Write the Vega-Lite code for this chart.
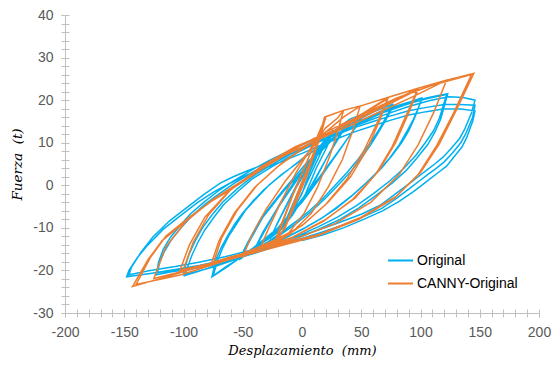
{
 "$schema": "https://vega.github.io/schema/vega-lite/v6.json",
 "width": 474, "height": 298,
 "autosize": {"type": "none"},
 "padding": {"left": 65, "top": 15, "right": 13, "bottom": 55},
 "config": {"view": {"stroke": null}, "font": "Liberation Sans"},
 "layer": [
  {
   "data": {"values": [
{"x":0,"y":0},{"x":5,"y":3},{"x":10,"y":6},{"x":15,"y":9},{"x":12,"y":6.5},{"x":5,"y":2},{"x":0,"y":-2},{"x":-8,"y":-6},{"x":-15,"y":-9},{"x":-11,"y":-6.5},{"x":-4,"y":-2},{"x":3,"y":2},{"x":10,"y":6},{"x":16,"y":9.5},
{"x":22,"y":11.5},{"x":26,"y":12.5},{"x":21,"y":9},{"x":12,"y":4},{"x":3,"y":-2},{"x":-8,"y":-7},{"x":-18,"y":-10.5},{"x":-26,"y":-12.2},{"x":-21,"y":-9},{"x":-11,"y":-3.5},{"x":0,"y":2.5},{"x":12,"y":8},{"x":26,"y":13},
{"x":19,"y":9.5},{"x":9,"y":3.5},{"x":-2,"y":-3},{"x":-14,"y":-8.5},{"x":-27,"y":-12.5},{"x":-19,"y":-8},{"x":-7,"y":-1.5},{"x":8,"y":5.5},{"x":20,"y":10.5},{"x":28,"y":13},{"x":38,"y":15},
{"x":31,"y":11.5},{"x":20,"y":6},{"x":6,"y":-1.5},{"x":-10,"y":-7.5},{"x":-25,"y":-12},{"x":-39,"y":-14.5},{"x":-31,"y":-10.5},{"x":-19,"y":-4.5},{"x":-5,"y":1.5},{"x":10,"y":7},{"x":25,"y":11.5},{"x":40,"y":15.3},
{"x":33,"y":12},{"x":21,"y":6.5},{"x":5,"y":-1.5},{"x":-15,"y":-8.5},{"x":-30,"y":-12.8},{"x":-40,"y":-15},{"x":-33,"y":-11},{"x":-21,"y":-5.5},{"x":-6,"y":0.5},{"x":12,"y":7.5},{"x":28,"y":12.5},{"x":40,"y":15.5},{"x":52,"y":16.8},
{"x":44,"y":13.2},{"x":31,"y":8},{"x":16,"y":2},{"x":0,"y":-4},{"x":-20,"y":-10},{"x":-38,"y":-14},{"x":-52,"y":-17},{"x":-45,"y":-13.5},{"x":-33,"y":-7.5},{"x":-16,"y":-1.5},{"x":4,"y":4.5},{"x":25,"y":10.5},{"x":40,"y":14.5},{"x":53,"y":17},
{"x":45,"y":13.5},{"x":32,"y":8.5},{"x":15,"y":2},{"x":-3,"y":-4.5},{"x":-22,"y":-10.5},{"x":-40,"y":-14.8},{"x":-53,"y":-17.5},{"x":-46,"y":-13.5},{"x":-34,"y":-7.5},{"x":-17,"y":-1.5},{"x":3,"y":5},{"x":24,"y":10.5},{"x":45,"y":15},{"x":60,"y":17.2},{"x":76,"y":19},
{"x":72,"y":16.5},{"x":68,"y":14.5},{"x":62,"y":11.8},{"x":55,"y":9},{"x":47,"y":6},{"x":38,"y":3},{"x":28,"y":0},{"x":18,"y":-3},{"x":7,"y":-5.8},{"x":-5,"y":-8.5},{"x":-18,"y":-11.2},{"x":-30,"y":-13.5},{"x":-41,"y":-15.3},{"x":-52,"y":-17},{"x":-65,"y":-19.5},{"x":-76,"y":-21.5},{"x":-74,"y":-19},{"x":-72,"y":-17},{"x":-68,"y":-14.5},{"x":-63,"y":-12},{"x":-57,"y":-9.2},{"x":-50,"y":-6.5},{"x":-41,"y":-3.6},{"x":-32,"y":-1},{"x":-21,"y":1.6},{"x":-10,"y":4},{"x":2,"y":6.6},{"x":15,"y":9},{"x":28,"y":11.4},{"x":40,"y":13.5},{"x":50,"y":15.1},{"x":60,"y":16.5},{"x":69,"y":17.7},{"x":77,"y":18.8},
{"x":74,"y":17},{"x":70,"y":15},{"x":64,"y":12.2},{"x":58,"y":9.5},{"x":50,"y":6.4},{"x":42,"y":3.5},{"x":31,"y":0.2},{"x":20,"y":-3},{"x":8,"y":-6.1},{"x":-5,"y":-9},{"x":-18,"y":-11.6},{"x":-30,"y":-13.8},{"x":-43,"y":-15.8},{"x":-55,"y":-17.5},{"x":-65,"y":-19.3},{"x":-75,"y":-21.3},{"x":-73,"y":-19.4},{"x":-71,"y":-17.5},{"x":-67,"y":-14.8},{"x":-62,"y":-12},{"x":-55,"y":-9},{"x":-48,"y":-6},{"x":-38,"y":-2.9},{"x":-28,"y":0},{"x":-17,"y":2.6},{"x":-5,"y":5},{"x":7,"y":7.6},{"x":20,"y":10},{"x":33,"y":12.2},{"x":45,"y":14},{"x":55,"y":15.6},{"x":65,"y":17},{"x":80,"y":18.5},{"x":91,"y":19.6},{"x":101,"y":20.5},
{"x":98,"y":18},{"x":94,"y":15.5},{"x":88,"y":12.4},{"x":82,"y":9.5},{"x":74,"y":6.4},{"x":65,"y":3.5},{"x":54,"y":0.5},{"x":42,"y":-2.5},{"x":29,"y":-5.4},{"x":15,"y":-8},{"x":0,"y":-10.4},{"x":-15,"y":-12.5},{"x":-30,"y":-14.5},{"x":-45,"y":-16.2},{"x":-60,"y":-17.8},{"x":-75,"y":-19.2},{"x":-88,"y":-20.2},{"x":-100,"y":-21},{"x":-98,"y":-18.5},{"x":-95,"y":-16},{"x":-90,"y":-13},{"x":-84,"y":-10},{"x":-76,"y":-7},{"x":-67,"y":-4},{"x":-55,"y":-0.9},{"x":-42,"y":2},{"x":-27,"y":4.6},{"x":-12,"y":7},{"x":3,"y":9.3},{"x":18,"y":11.5},{"x":33,"y":13.3},{"x":48,"y":15},{"x":63,"y":16.8},{"x":78,"y":18.5},{"x":90,"y":19.5},{"x":101,"y":20.2},
{"x":98,"y":18},{"x":95,"y":15.8},{"x":90,"y":12.8},{"x":84,"y":10},{"x":76,"y":7},{"x":67,"y":4},{"x":56,"y":1},{"x":44,"y":-2},{"x":31,"y":-4.8},{"x":18,"y":-7.5},{"x":3,"y":-9.9},{"x":-12,"y":-12},{"x":-27,"y":-14},{"x":-42,"y":-15.8},{"x":-57,"y":-17.4},{"x":-72,"y":-18.8},{"x":-86,"y":-20.1},{"x":-99,"y":-21.2},{"x":-96,"y":-18.8},{"x":-93,"y":-16.5},{"x":-88,"y":-13.5},{"x":-82,"y":-10.5},{"x":-74,"y":-7.4},{"x":-66,"y":-4.5},{"x":-54,"y":-1.4},{"x":-42,"y":1.5},{"x":-27,"y":4.1},{"x":-12,"y":6.5},{"x":4,"y":8.8},{"x":20,"y":11},{"x":36,"y":13},{"x":52,"y":15},{"x":68,"y":17},{"x":85,"y":18.7},{"x":105,"y":20.5},{"x":115,"y":21.1},{"x":123,"y":21.5},
{"x":120,"y":18.5},{"x":117,"y":15.5},{"x":112,"y":12.4},{"x":106,"y":9.5},{"x":97,"y":6.4},{"x":88,"y":3.5},{"x":76,"y":0.5},{"x":62,"y":-2.5},{"x":48,"y":-5.3},{"x":32,"y":-8},{"x":16,"y":-10.1},{"x":0,"y":-12},{"x":-20,"y":-14.1},{"x":-40,"y":-16},{"x":-60,"y":-17.6},{"x":-80,"y":-19},{"x":-95,"y":-19.7},{"x":-110,"y":-20.3},{"x":-123,"y":-21},{"x":-121,"y":-18},{"x":-117,"y":-15},{"x":-111,"y":-12.2},{"x":-103,"y":-9.5},{"x":-94,"y":-6.7},{"x":-83,"y":-4},{"x":-71,"y":-1.4},{"x":-58,"y":1},{"x":-43,"y":3.5},{"x":-28,"y":5.8},{"x":-10,"y":8.2},{"x":8,"y":10.5},{"x":28,"y":12.8},{"x":48,"y":15},{"x":68,"y":17.1},{"x":88,"y":19},{"x":106,"y":20.4},{"x":122,"y":21.3},
{"x":119,"y":18.5},{"x":116,"y":15.8},{"x":111,"y":12.8},{"x":104,"y":10},{"x":96,"y":7},{"x":86,"y":4},{"x":74,"y":1},{"x":60,"y":-2},{"x":46,"y":-4.8},{"x":30,"y":-7.5},{"x":14,"y":-9.7},{"x":-2,"y":-11.7},{"x":-22,"y":-13.8},{"x":-42,"y":-15.6},{"x":-62,"y":-17.2},{"x":-82,"y":-18.6},{"x":-102,"y":-19.7},{"x":-122,"y":-20.5},{"x":-120,"y":-18},{"x":-116,"y":-15.5},{"x":-110,"y":-12.7},{"x":-102,"y":-10},{"x":-93,"y":-7.2},{"x":-82,"y":-4.5},{"x":-70,"y":-2},{"x":-57,"y":0.5},{"x":-42,"y":3},{"x":-26,"y":5.5},{"x":-8,"y":7.8},{"x":10,"y":10},{"x":30,"y":12.3},{"x":50,"y":14.5},{"x":70,"y":16.6},{"x":90,"y":18.5},{"x":108,"y":19.9},{"x":124,"y":20.8},{"x":136,"y":20.6},{"x":146,"y":20},
{"x":143,"y":17},{"x":140,"y":15},{"x":137,"y":13},{"x":133,"y":11},{"x":126,"y":8.7},{"x":119,"y":6.6},{"x":112,"y":5},{"x":105,"y":3.5},{"x":98,"y":2},{"x":91,"y":0.5},{"x":80,"y":-1.8},{"x":66,"y":-4.7},{"x":50,"y":-6.8},{"x":32,"y":-8.7},{"x":16,"y":-10.3},{"x":0,"y":-11.7},{"x":-22,"y":-13.6},{"x":-44,"y":-15.3},{"x":-65,"y":-16.8},{"x":-86,"y":-18},{"x":-107,"y":-19.1},{"x":-128,"y":-20},{"x":-146,"y":-21},
{"x":-144,"y":-19.3},{"x":-136,"y":-15.8},{"x":-126,"y":-12.2},{"x":-112,"y":-8.4},{"x":-97,"y":-5.2},{"x":-83,"y":-2.2},{"x":-69,"y":0.5},{"x":-58,"y":2},{"x":-46,"y":3.4},{"x":-33,"y":4.8},{"x":-20,"y":6.2},{"x":-10,"y":7.3},{"x":0,"y":8.5},{"x":15,"y":10.3},{"x":30,"y":12},{"x":45,"y":13.6},{"x":60,"y":15},{"x":75,"y":16.3},{"x":90,"y":17.5},{"x":105,"y":18.3},{"x":120,"y":19},{"x":133,"y":19},{"x":146,"y":18.8},
{"x":144,"y":16},{"x":141,"y":14},{"x":138,"y":12},{"x":134,"y":10},{"x":127,"y":7.6},{"x":120,"y":5.5},{"x":113,"y":3.9},{"x":106,"y":2.5},{"x":99,"y":1},{"x":92,"y":-0.5},{"x":80,"y":-3},{"x":67,"y":-5.5},{"x":50,"y":-7.6},{"x":33,"y":-9.5},{"x":16,"y":-11.1},{"x":0,"y":-12.5},{"x":-22,"y":-14.3},{"x":-44,"y":-16},{"x":-65,"y":-17.5},{"x":-86,"y":-18.8},{"x":-107,"y":-19.8},{"x":-128,"y":-20.7},{"x":-148,"y":-21.5},
{"x":-146,"y":-20},{"x":-139,"y":-17},{"x":-130,"y":-14},{"x":-117,"y":-10.3},{"x":-102,"y":-7},{"x":-88,"y":-4},{"x":-74,"y":-1.5},{"x":-62,"y":0.3},{"x":-50,"y":2},{"x":-36,"y":3.6},{"x":-22,"y":5},{"x":-11,"y":6.3},{"x":0,"y":7.5},{"x":15,"y":9.3},{"x":30,"y":11},{"x":45,"y":12.6},{"x":60,"y":14},{"x":75,"y":15.3},{"x":90,"y":16.5},{"x":105,"y":17.3},{"x":120,"y":18},{"x":134,"y":17.9},{"x":146,"y":17.5},
{"x":144,"y":15},{"x":142,"y":13.5},{"x":139,"y":11.2},{"x":135,"y":9},{"x":128,"y":6.6},{"x":122,"y":4.5},{"x":115,"y":3},{"x":108,"y":1.5},{"x":101,"y":0},{"x":94,"y":-1.5},{"x":82,"y":-3.8},{"x":68,"y":-6},{"x":52,"y":-8},{"x":35,"y":-10},{"x":18,"y":-11.6},{"x":0,"y":-13}
   ]},
   "mark": {"type": "line", "strokeWidth": 1.5},
   "encoding": {
    "x": {"field": "x", "type": "quantitative", "scale": {"domain": [-200, 200], "nice": false},
     "axis": {"orient": "bottom", "values": [-200,-150,-100,-50,0,50,100,150,200], "grid": false, "labelFlush": false, "labelOverlap": false, "labelExpr": "'' + datum.value",
      "domainColor": "#BFBFBF", "tickColor": "#BFBFBF", "tickSize": 4, "labelFontSize": 14, "labelColor": "#595959", "labelPadding": 8,
      "title": "Desplazamiento\u00a0\u00a0(mm)", "titleFont": "DejaVu Serif", "titleFontStyle": "italic", "titleFontWeight": "normal", "titleFontSize": 13, "titleColor": "#000000", "titlePadding": 5}},
    "y": {"field": "y", "type": "quantitative", "scale": {"domain": [-30, 40], "nice": false},
     "axis": {"orient": "left", "values": [-30,-20,-10,0,10,20,30,40], "grid": false, "labelFlush": false, "labelOverlap": false, "labelExpr": "'' + datum.value",
      "domainColor": "#BFBFBF", "tickColor": "#BFBFBF", "tickSize": 4, "labelFontSize": 14, "labelColor": "#595959", "labelPadding": 8,
      "title": "Fuerza\u00a0\u00a0(t)", "titleFont": "DejaVu Serif", "titleFontStyle": "italic", "titleFontWeight": "normal", "titleFontSize": 13.5, "titleColor": "#000000", "titlePadding": 8}},
    "color": {"datum": "Original", "type": "nominal",
     "scale": {"domain": ["Original", "CANNY-Original"], "range": ["#00B0F0", "#ED7D31"]},
     "legend": {"orient": "none", "legendX": 322, "legendY": 232, "title": null, "symbolType": "stroke", "symbolSize": 625, "symbolStrokeWidth": 2,
      "labelFontSize": 14, "labelColor": "#000000", "labelOffset": 3, "rowPadding": 2, "padding": 0}},
    "order": {"value": null}
   }
  },
  {
   "data": {"values": [
{"x":0,"y":0},{"x":6,"y":4.5},{"x":12,"y":9},{"x":15,"y":11},{"x":10,"y":7},{"x":3,"y":1.5},{"x":-5,"y":-4},{"x":-12,"y":-8.5},{"x":-15,"y":-10.5},{"x":-10,"y":-6.5},{"x":-2,"y":-0.5},{"x":6,"y":5},{"x":13,"y":10},{"x":17,"y":13},{"x":20,"y":16},
{"x":15,"y":12},{"x":7,"y":5.5},{"x":-2,"y":-1.5},{"x":-10,"y":-7},{"x":-17,"y":-11},{"x":-22,"y":-13.5},{"x":-16,"y":-8.5},{"x":-8,"y":-2.5},{"x":2,"y":4},{"x":10,"y":9.5},{"x":16,"y":13.5},{"x":20,"y":15.8},
{"x":16,"y":12.5},{"x":8,"y":6},{"x":-2,"y":-2},{"x":-12,"y":-8.5},{"x":-20,"y":-12.5},{"x":-24,"y":-14},{"x":-18,"y":-9.5},{"x":-9,"y":-3},{"x":1,"y":3.5},{"x":10,"y":9.5},{"x":17,"y":13.8},{"x":19,"y":16},
{"x":27,"y":16.8},{"x":35,"y":17.6},{"x":30,"y":12.5},{"x":23,"y":6.5},{"x":13,"y":-0.5},{"x":2,"y":-6.5},{"x":-12,"y":-11.5},{"x":-25,"y":-13.5},{"x":-36,"y":-15.2},{"x":-28,"y":-10},{"x":-17,"y":-3.5},{"x":-5,"y":3},{"x":8,"y":9},{"x":20,"y":13.5},{"x":30,"y":15.8},{"x":35,"y":17.6},
{"x":49,"y":18.6},{"x":43,"y":13},{"x":34,"y":6},{"x":22,"y":-0.5},{"x":8,"y":-6.5},{"x":-10,"y":-11.5},{"x":-30,"y":-14},{"x":-50,"y":-16.8},{"x":-42,"y":-11.5},{"x":-30,"y":-5.5},{"x":-14,"y":1},{"x":3,"y":7},{"x":20,"y":12.5},{"x":35,"y":16},{"x":49,"y":18.6},
{"x":73,"y":20.7},{"x":64,"y":15},{"x":52,"y":8},{"x":38,"y":1.5},{"x":20,"y":-4.5},{"x":0,"y":-9.5},{"x":-20,"y":-12.5},{"x":-45,"y":-15.5},{"x":-77,"y":-18.8},{"x":-70,"y":-13},{"x":-57,"y":-6.5},{"x":-40,"y":-0.5},{"x":-20,"y":4.5},{"x":0,"y":8.5},{"x":25,"y":12.5},{"x":50,"y":16.5},{"x":72,"y":20.3},
{"x":66,"y":15.5},{"x":55,"y":8.5},{"x":41,"y":2},{"x":22,"y":-4},{"x":2,"y":-9},{"x":-18,"y":-12.8},{"x":-44,"y":-16},{"x":-75,"y":-18.5},{"x":-68,"y":-12.5},{"x":-55,"y":-6},{"x":-38,"y":0},{"x":-18,"y":5},{"x":2,"y":9},{"x":28,"y":13},{"x":52,"y":17},{"x":73,"y":20.7},
{"x":98,"y":22.8},{"x":88,"y":16.5},{"x":76,"y":9},{"x":62,"y":2.5},{"x":42,"y":-3.5},{"x":18,"y":-8.5},{"x":-10,"y":-12.5},{"x":-45,"y":-15.8},{"x":-75,"y":-18.2},{"x":-103,"y":-20},{"x":-95,"y":-14},{"x":-82,"y":-7.5},{"x":-62,"y":-1.5},{"x":-36,"y":4},{"x":-8,"y":8.5},{"x":25,"y":12.5},{"x":62,"y":17.5},{"x":98,"y":22.5},
{"x":90,"y":17},{"x":79,"y":10},{"x":65,"y":3.5},{"x":45,"y":-3},{"x":20,"y":-8},{"x":-8,"y":-12.2},{"x":-42,"y":-15.5},{"x":-72,"y":-18},{"x":-100,"y":-19.7},{"x":-92,"y":-13.5},{"x":-79,"y":-7},{"x":-60,"y":-1},{"x":-34,"y":4.5},{"x":-6,"y":9},{"x":28,"y":13},{"x":64,"y":18},{"x":98,"y":22.8},
{"x":122,"y":24.7},{"x":111,"y":17},{"x":98,"y":9.5},{"x":82,"y":2.5},{"x":58,"y":-4},{"x":28,"y":-9},{"x":-5,"y":-12.5},{"x":-40,"y":-15.5},{"x":-80,"y":-18.8},{"x":-125,"y":-21.9},{"x":-115,"y":-14.5},{"x":-98,"y":-8.5},{"x":-76,"y":-3.5},{"x":-48,"y":1.5},{"x":-15,"y":7},{"x":20,"y":11.5},{"x":60,"y":16.5},{"x":95,"y":21},{"x":122,"y":24.7},
{"x":145,"y":26.3},{"x":130,"y":17.5},{"x":116,"y":9.8},{"x":100,"y":3},{"x":80,"y":-2.5},{"x":50,"y":-7.5},{"x":15,"y":-11.5},{"x":-20,"y":-14},{"x":-60,"y":-16.8},{"x":-100,"y":-20.3},{"x":-143,"y":-23.8},{"x":-130,"y":-17.5},{"x":-118,"y":-13},{"x":-97,"y":-8.2},{"x":-78,"y":-4},{"x":-60,"y":-1},{"x":-30,"y":4.5},{"x":0,"y":9.5},{"x":20,"y":12.5},
{"x":50,"y":16.5},{"x":80,"y":20.5},{"x":110,"y":23.5},{"x":143,"y":26},{"x":128,"y":17},{"x":114,"y":9.5},{"x":98,"y":2.5},{"x":78,"y":-3},{"x":48,"y":-8},{"x":12,"y":-12},{"x":-22,"y":-14.5},{"x":-62,"y":-17.5},{"x":-102,"y":-21},{"x":-140,"y":-23.3},{"x":-128,"y":-17},{"x":-115,"y":-12},{"x":-95,"y":-7.5},{"x":-75,"y":-3.5},{"x":-50,"y":1},{"x":-25,"y":5.5},{"x":0,"y":9.5}
   ]},
   "mark": {"type": "line", "strokeWidth": 1.5},
   "encoding": {
    "x": {"field": "x", "type": "quantitative",
     "axis": {"orient": "bottom", "values": [-200,-190,-180,-170,-160,-150,-140,-130,-120,-110,-100,-90,-80,-70,-60,-50,-40,-30,-20,-10,0,10,20,30,40,50,60,70,80,90,100,110,120,130,140,150,160,170,180,190,200],
      "grid": false, "domain": false, "labels": false, "title": null, "tickSize": 8, "offset": -4, "tickColor": "#BFBFBF"}},
    "y": {"field": "y", "type": "quantitative",
     "axis": {"orient": "left", "values": [-30,-28,-26,-24,-22,-20,-18,-16,-14,-12,-10,-8,-6,-4,-2,0,2,4,6,8,10,12,14,16,18,20,22,24,26,28,30,32,34,36,38,40],
      "grid": false, "domain": false, "labels": false, "title": null, "tickSize": 8, "offset": -4, "tickColor": "#BFBFBF"}},
    "color": {"datum": "CANNY-Original", "type": "nominal"},
    "order": {"value": null}
   }
  }
 ],
 "resolve": {"axis": {"x": "independent", "y": "independent"}}
}
